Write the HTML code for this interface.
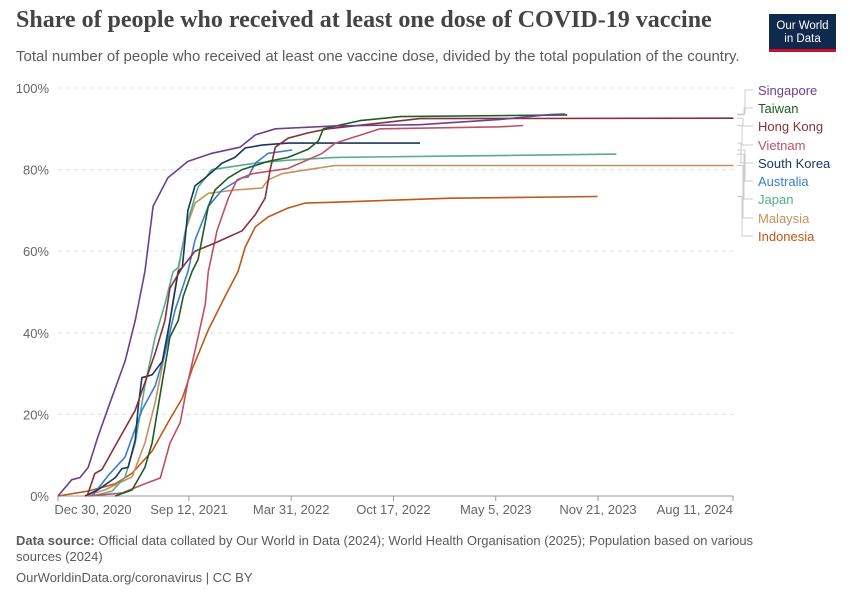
<!DOCTYPE html>
<html><head><meta charset="utf-8">
<style>
body{margin:0;background:#fff;font-family:"Liberation Sans",sans-serif;}
#wrap{position:relative;width:850px;height:600px;overflow:hidden;}
.t{position:absolute;white-space:nowrap;}
</style></head>
<body>
<div id="wrap">
<div class="t" style="left:16px;top:7px;font-family:'Liberation Serif',serif;font-size:24px;font-weight:bold;color:#444;">Share of people who received at least one dose of COVID-19 vaccine</div>
<div class="t" style="left:16px;top:48px;font-size:15px;color:#5b5b5b;">Total number of people who received at least one vaccine dose, divided by the total population of the country.</div>
<div style="position:absolute;left:769px;top:14px;width:67px;height:38px;background:#0f2a4d;color:#fff;font-size:11.5px;text-align:center;line-height:13px;padding-top:6px;box-sizing:border-box;border-bottom:3px solid #c8102e;">Our World<br>in Data</div>
<svg id="chart" width="850" height="600" style="position:absolute;left:0;top:0;"></svg>
<div class="t" style="left:16px;top:533px;font-size:13px;color:#5b5b5b;line-height:16px;white-space:normal;width:780px;"><b>Data source:</b> Official data collated by Our World in Data (2024); World Health Organisation (2025); Population based on various sources (2024)</div>
<div class="t" style="left:16px;top:570px;font-size:13px;color:#5b5b5b;">OurWorldinData.org/coronavirus | CC BY</div>
</div>
<script>
const yTicks=[0,20,40,60,80,100];
const xTickDays=[0,256,456,656,856,1056,1320];
const xTickLabels=["Dec 30, 2020","Sep 12, 2021","Mar 31, 2022","Oct 17, 2022","May 5, 2023","Nov 21, 2023","Aug 11, 2024"];
const seriesNames=["Singapore","Taiwan","Hong Kong","Vietnam","South Korea","Australia","Japan","Malaysia","Indonesia"];
const seriesColors=["#6d3e91","#1f5d24","#883039","#c15065","#18375f","#3a7dd1","#58ac8c","#c4925f","#c05917"];
const singaporeDays=[0,8,27,43,59,78,102,131,151,170,186,215,254,301,356,386,425,542,708,865,963,992];
const singaporeVals=[0,1.2,4,4.5,7,14.5,23,33,43,55,71,78,82,84,85.5,88.5,90,90.7,91,92.3,93.5,93.6];
const taiwanDays=[112,145,170,184,204,219,235,245,262,274,294,307,333,360,411,450,489,509,519,536,591,669,996];
const taiwanVals=[0,1.5,7,13,28,39,43,49,55,58,71,75,78,80,82,83,85,87,90,90.5,92,93,93.4];
const hongKongDays=[57,72,86,115,151,190,209,219,243,268,307,360,386,405,415,425,450,489,528,708,1321];
const hongKongVals=[0,5.5,6.5,13,21,35,43,51,56,60,62,65,69,73,80,85.5,87.7,89,90,92.5,92.6];
const vietnamDays=[60,125,170,200,219,239,254,274,288,294,311,333,350,380,450,517,542,630,865,910];
const vietnamVals=[0,0.7,3,4.4,13,18,28,39,47,55,65,73,77.5,79,80.3,84,86.5,90,90.5,90.8];
const southKoreaDays=[53,78,112,125,137,151,157,164,184,204,219,235,243,254,268,288,321,346,366,399,450,708];
const southKoreaVals=[0,1.5,4.5,6.7,7,13.7,22,29,29.7,33,43,55,56,70,76,78,81.6,83,85.3,86,86.5,86.5];
const australiaDays=[67,98,131,164,190,209,229,254,268,294,321,360,372,386,411,458];
const australiaVals=[0,5,9.5,21,27,35,45.6,55,62.7,71,75,78,78.2,81.6,84,84.8];
const japanDays=[67,106,131,151,170,190,209,225,235,254,274,301,333,386,450,542,767,1092];
const japanVals=[0,1.2,4.6,13,27,39,47,55,56,67.6,75.7,80,80.6,81.6,82.3,83,83.3,83.8];
const malaysiaDays=[53,92,145,170,190,209,229,249,268,294,346,399,411,438,489,542,1321];
const malaysiaVals=[0,1.5,4.7,13,23,35,51,65,71.8,74.2,75,75.5,77.5,79,80,81,81];
const indonesiaDays=[0,59,112,145,184,215,243,262,294,327,352,366,386,411,450,483,542,767,1055];
const indonesiaVals=[0,1.2,3,5.6,11,18,24,31,40.7,49,55,61,66,68.4,70.6,71.8,72,73,73.4];
const allDays=[singaporeDays,taiwanDays,hongKongDays,vietnamDays,southKoreaDays,australiaDays,japanDays,malaysiaDays,indonesiaDays];
const allVals=[singaporeVals,taiwanVals,hongKongVals,vietnamVals,southKoreaVals,australiaVals,japanVals,malaysiaVals,indonesiaVals];

const X0=58,X1=733,Y0=496,Y1=88,DMAX=1320;
const xs=d=>X0+(X1-X0)*d/DMAX;
const ys=v=>Y0-(Y0-Y1)*v/100;
const svg=document.getElementById('chart');
const NS="http://www.w3.org/2000/svg";
function mk(tag,attrs){const e=document.createElementNS(NS,tag);for(const k in attrs)e.setAttribute(k,attrs[k]);svg.appendChild(e);return e;}

yTicks.forEach(v=>{
  if(v>0){const g=mk('line',{x1:X0,x2:X1,y1:ys(v),y2:ys(v),stroke:'#ddd','stroke-dasharray':'4,4'});
  
  }
  const t=mk('text',{x:49,y:ys(v)+5,'text-anchor':'end','font-size':'13','fill':'#666','font-family':'Liberation Sans, sans-serif'});
  t.textContent=v+'%';
  
  
});
const ax=mk('line',{x1:X0,x2:X1,y1:Y0,y2:Y0,stroke:'#999'});


xTickDays.forEach((d,i)=>{
  const tk=mk('line',{x1:xs(d),x2:xs(d),y1:Y0,y2:Y0+5,stroke:'#999'});
  
  
  let anchor='middle',x=xs(d);
  if(i===0){x=X0+35;}
  if(i===xTickDays.length-1){anchor='end';x=X1;}
  const t=mk('text',{x:x,y:514,'text-anchor':anchor,'font-size':'13','fill':'#666','font-family':'Liberation Sans, sans-serif'});
  t.textContent=xTickLabels[i];
  
  
});
const order=[8,7,6,5,4,3,2,1,0];
order.forEach(i=>{
  const pts=allDays[i].map((d,j)=>xs(d).toFixed(1)+','+ys(allVals[i][j]).toFixed(1)).join(' ');
  const p=mk('polyline',{points:pts,fill:'none',stroke:seriesColors[i],'stroke-width':'1.6','stroke-linejoin':'round'});
  
  
});
const labelY=[90,108,126,145,163,181,199,218,236];
seriesNames.forEach((n,i)=>{
  const vals=allVals[i];const last=vals[vals.length-1];
  const ly=labelY[i];const yEnd=ys(last);
  const bx=745-(i%5);
  const c=mk('polyline',{points:`737,${yEnd.toFixed(1)} ${bx},${yEnd.toFixed(1)} ${bx},${ly} 753,${ly}`,fill:'none',stroke:'#ccc','stroke-width':'1'});
  
  
  const t=mk('text',{x:758,y:ly+5,'font-size':'13','fill':seriesColors[i],'font-family':'Liberation Sans, sans-serif'});
  t.textContent=n;
  
  
});
</script>
</body></html>
